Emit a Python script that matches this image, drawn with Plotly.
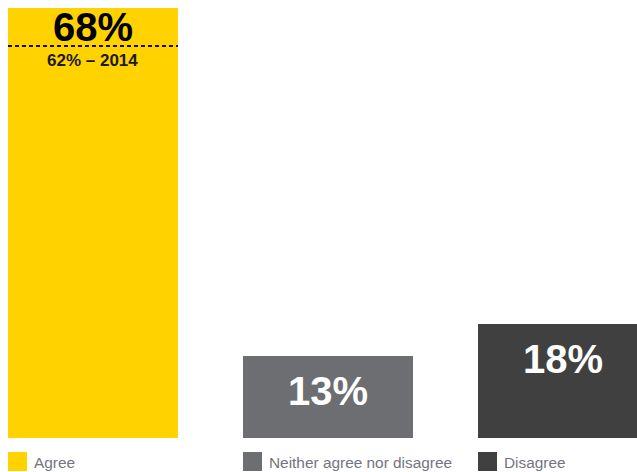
import plotly.graph_objects as go

# Survey responses (share of respondents, %)
categories = ["Agree", "Neither agree nor disagree", "Disagree"]
values = [68, 13, 18]
colors = ["#FFD200", "#6D6E71", "#404041"]
label_colors = ["#000000", "#FFFFFF", "#FFFFFF"]

# Prior-year comparison for "Agree"
prior_year = 2014
prior_value = 62

BAR_W = 0.7234
FONT = "Liberation Sans"
X_RANGE = [-0.3957, 2.3149]

xs = list(range(len(categories)))


def x_to_paper(x):
    """Convert an x data value to paper coordinates of the plot area."""
    return (x - X_RANGE[0]) / (X_RANGE[1] - X_RANGE[0])


fig = go.Figure(
    go.Bar(
        x=xs,
        y=values,
        width=BAR_W,
        marker=dict(color=colors, line=dict(width=0)),
        showlegend=False,
        hoverinfo="skip",
    )
)

shapes = []
annotations = []

# Prior-year reference line across the "Agree" bar
shapes.append(dict(
    type="line", xref="x", yref="y",
    x0=xs[0] - BAR_W / 2, x1=xs[0] + BAR_W / 2,
    y0=prior_value, y1=prior_value,
    line=dict(color="#111111", width=2, dash="4px,3px"),
))
annotations.append(dict(
    x=xs[0], y=prior_value, xref="x", yref="y",
    text=f"<b>{prior_value}% \u2013 {prior_year}</b>",
    showarrow=False, yanchor="top", yshift=-3,
    font=dict(family=FONT, size=17, color="#1A1A1A"),
))

# Value labels inside the bars
for i, (v, c) in enumerate(zip(values, label_colors)):
    if i == 0:
        ann = dict(y=(v + prior_value) / 2, yanchor="middle", yshift=0)
    else:
        ann = dict(y=v, yanchor="top", yshift=-11)
    annotations.append(dict(
        x=xs[i], xref="x", yref="y", text=f"<b>{v}%</b>",
        showarrow=False,
        font=dict(family=FONT, size=40, color=c),
        **ann,
    ))

# Legend drawn under each bar, aligned with the bar's left edge
for i, (cat, col) in enumerate(zip(categories, colors)):
    left = x_to_paper(xs[i] - BAR_W / 2)
    shapes.append(dict(
        type="rect", xref="paper", yref="paper",
        xsizemode="pixel", xanchor=left, x0=0, x1=19,
        ysizemode="pixel", yanchor=0, y0=-14, y1=-33,
        fillcolor=col, line=dict(width=0),
    ))
    annotations.append(dict(
        x=left, y=0, xref="paper", yref="paper", text=cat,
        showarrow=False, xanchor="left", yanchor="middle",
        xshift=24, yshift=-24,
        font=dict(family=FONT, size=15.4, color="#747480"),
    ))

fig.update_layout(
    width=637, height=472,
    margin=dict(l=0, r=0, t=8, b=34),
    paper_bgcolor="white", plot_bgcolor="white",
    xaxis=dict(range=X_RANGE, visible=False, fixedrange=True),
    yaxis=dict(range=[0, 68], visible=False, fixedrange=True),
    shapes=shapes,
    annotations=annotations,
    bargap=0,
)

fig.write_html("out.html")
